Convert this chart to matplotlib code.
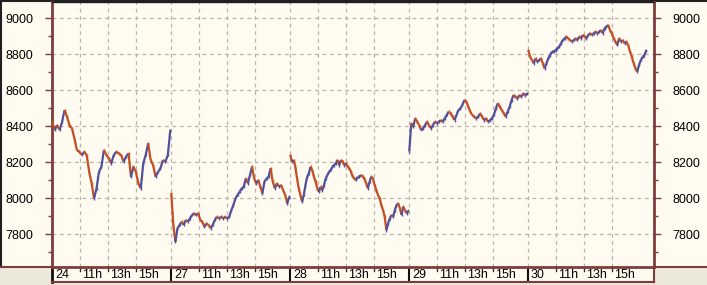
import numpy as np
import matplotlib
matplotlib.use("Agg")
import matplotlib.pyplot as plt
from matplotlib.collections import LineCollection
from matplotlib.patches import Rectangle
from matplotlib.ticker import MultipleLocator

# ---------------- data ----------------
day_labels = ["24", "27", "28", "29", "30"]
hour_labels = ["11h", "13h", "15h"]
hour_offsets = [2, 4, 6]          # hours after the 9h open
session_hours = 8.5               # 9h00 -> 17h30
y_ticks = [7800, 8000, 8200, 8400, 8600, 8800, 9000]

day24 = [8424, 8378, 8405, 8378, 8424, 8489, 8452, 8405, 8387, 8332, 8267, 8257,
         8239, 8257, 8239, 8146, 8082, 7998, 8054, 8146, 8174, 8267, 8239, 8220,
         8193, 8239, 8257, 8248, 8239, 8202, 8230, 8248, 8118, 8174, 8146, 8082,
         8054, 8193, 8239, 8304, 8211, 8183, 8118, 8146, 8165, 8211, 8202, 8239, 8378]
day27 = [8026, 7850, 7757, 7832, 7850, 7868, 7850, 7878, 7868, 7887, 7906, 7915,
         7906, 7915, 7878, 7868, 7841, 7859, 7850, 7832, 7850, 7878, 7896, 7887,
         7896, 7887, 7896, 7887, 7896, 7933, 7961, 7998, 8017, 8035, 8054, 8063,
         8109, 8082, 8128, 8174, 8109, 8082, 8100, 8063, 8026, 8091, 8109, 8118,
         8165, 8091, 8054, 8082, 8063, 8072, 8044, 8017, 7970, 8007]
day28 = [8239, 8202, 8211, 8174, 8109, 8054, 8017, 7980, 8017, 8072, 8118, 8137,
         8174, 8156, 8118, 8091, 8054, 8035, 8063, 8044, 8072, 8109, 8128, 8146,
         8156, 8174, 8183, 8193, 8211, 8183, 8211, 8202, 8183, 8193, 8174, 8165,
         8146, 8118, 8109, 8100, 8118, 8118, 8128, 8118, 8109, 8082, 8054, 8091,
         8118, 8109, 8072, 8044, 8017, 7998, 7961, 7933, 7896, 7822, 7859, 7887,
         7906, 7896, 7933, 7961, 7970, 7943, 7906, 7952, 7933, 7915, 7930]
day29 = [8260, 8415, 8396, 8443, 8424, 8405, 8378, 8387, 8405, 8424, 8405, 8387,
         8405, 8424, 8415, 8424, 8433, 8424, 8443, 8461, 8480, 8470, 8452, 8433,
         8461, 8489, 8498, 8517, 8544, 8535, 8507, 8480, 8461, 8452, 8443, 8452,
         8470, 8452, 8433, 8443, 8424, 8433, 8443, 8461, 8498, 8526, 8507, 8489,
         8470, 8452, 8480, 8507, 8544, 8572, 8563, 8554, 8572, 8563, 8581, 8572, 8581]
day30 = [8822, 8785, 8767, 8748, 8776, 8757, 8767, 8776, 8748, 8720, 8748, 8776,
         8794, 8813, 8813, 8822, 8831, 8841, 8859, 8878, 8887, 8896, 8887, 8878,
         8868, 8878, 8887, 8878, 8896, 8887, 8906, 8896, 8887, 8906, 8915, 8906,
         8915, 8924, 8915, 8924, 8933, 8915, 8943, 8952, 8961, 8933, 8915, 8887,
         8868, 8850, 8887, 8868, 8878, 8859, 8868, 8850, 8813, 8785, 8748, 8720,
         8702, 8739, 8767, 8785, 8794, 8822]
days = [day24, day27, day28, day29, day30]

# ---------------- style ----------------
W, H = 707, 285
CREAM = "#FFFBF0"
GREY = "#ECE9D8"
BROWN = "#7E3C3C"
GRID = "#B8B4AC"
UP = "#50509C"
DOWN = "#C44E24"
FONT = "Liberation Sans"
FS = 9.0

fig = plt.figure(figsize=(W / 100, H / 100), dpi=100, facecolor=GREY)

def fx(px):
    return px / W

def fy(py):
    return 1 - py / H

# outer cream panel
fig.patches.append(Rectangle((0, fy(267)), 1, 267 / H, transform=fig.transFigure,
                             facecolor=CREAM, edgecolor="none", zorder=-10))
fig.add_artist(plt.Line2D([0, 1], [fy(0.5), fy(0.5)], transform=fig.transFigure,
                          color="#202020", lw=1.5, zorder=-5))
fig.add_artist(plt.Line2D([fx(1), fx(1)], [fy(0), fy(267)], transform=fig.transFigure,
                          color="#202020", lw=1.5, zorder=-5))
fig.add_artist(plt.Line2D([0, fx(52)], [fy(267), fy(267)], transform=fig.transFigure,
                          color=BROWN, lw=1.5, zorder=-5))
fig.add_artist(plt.Line2D([fx(654), 1], [fy(267), fy(267)], transform=fig.transFigure,
                          color=BROWN, lw=1.5, zorder=-5))

# main axes
ax = fig.add_axes([fx(52), fy(267), fx(654 - 52), (267 - 2) / H])
ax.set_zorder(2)
ax.set_facecolor(CREAM)
ndays = len(days)
ax.set_xlim(0, 43.0)
ax.set_ylim(7617, 9089)

for i, vals in enumerate(days):
    v = np.asarray(vals, dtype=float)
    t = i * session_hours + np.linspace(0.02, session_hours - 0.05, len(v))
    pts = np.column_stack([t, v])
    segs = np.stack([pts[:-1], pts[1:]], axis=1)
    cols = [UP if b >= a else DOWN for a, b in zip(v[:-1], v[1:])]
    lc = LineCollection(segs, colors=cols, linewidths=1.6, zorder=3,
                        capstyle="butt", joinstyle="miter")
    ax.add_collection(lc)
    ax.vlines(t, v - 8, v + 8, colors=cols + [cols[-1]], linewidths=1.0, zorder=3)

# grid
vgrid = []
for i in range(ndays):
    vgrid.append(i * session_hours)
    for h in hour_offsets:
        vgrid.append(i * session_hours + h)
for xg in vgrid[1:]:
    ax.axvline(xg, color=GRID, lw=0.9, ls=(0, (3, 3)), zorder=1)
for yv in y_ticks:
    ax.axhline(yv, color=GRID, lw=0.9, ls=(0, (3, 3)), zorder=1)

ax.set_xticks([])
ax.set_yticks(y_ticks)
ax.yaxis.set_minor_locator(MultipleLocator(100))
ax.tick_params(axis="y", which="major", left=True, right=True, labelleft=True,
               labelright=True, length=5, width=1.0, color=BROWN, pad=8.5,
               labelsize=FS)
ax.tick_params(axis="y", which="minor", left=True, right=True, length=3,
               width=1.0, color=BROWN)
for lab in ax.get_yticklabels():
    lab.set_fontfamily(FONT)
for s in ["left", "right", "bottom"]:
    ax.spines[s].set_color(BROWN)
    ax.spines[s].set_linewidth(2.0)
ax.spines["top"].set_color("#202020")
ax.spines["top"].set_linewidth(1.0)

# x strip
axs = fig.add_axes([fx(52), fy(282), fx(654 - 52), 15 / H])
axs.set_zorder(1)
axs.set_facecolor(CREAM)
axs.set_xlim(0, 43.0)
axs.set_ylim(0, 1)
axs.set_xticks([])
axs.set_yticks([])
axs.spines["top"].set_visible(False)
for s in ["bottom", "right"]:
    axs.spines[s].set_color(BROWN)
    axs.spines[s].set_linewidth(1.5)
axs.spines["left"].set_color("#101010")
axs.spines["left"].set_linewidth(2.0)

for i, lab in enumerate(day_labels):
    x0 = i * session_hours
    axs.axvline(x0, color="#101010", lw=1.5)
    axs.annotate(lab, (x0, 0.5), xytext=(2.2, 0), textcoords="offset points",
                 ha="left", va="center", fontsize=FS, family=FONT, color="black")
    for h, hl in zip(hour_offsets, hour_labels):
        xh = x0 + h
        axs.plot([xh, xh], [1.0, 0.72], color="#303030", lw=1.0)
        axs.annotate(hl, (xh, 0.5), xytext=(1.4, 0), textcoords="offset points",
                     ha="left", va="center", fontsize=FS, family=FONT, color="black")

fig.savefig("out.png", dpi=100, facecolor=fig.get_facecolor())
